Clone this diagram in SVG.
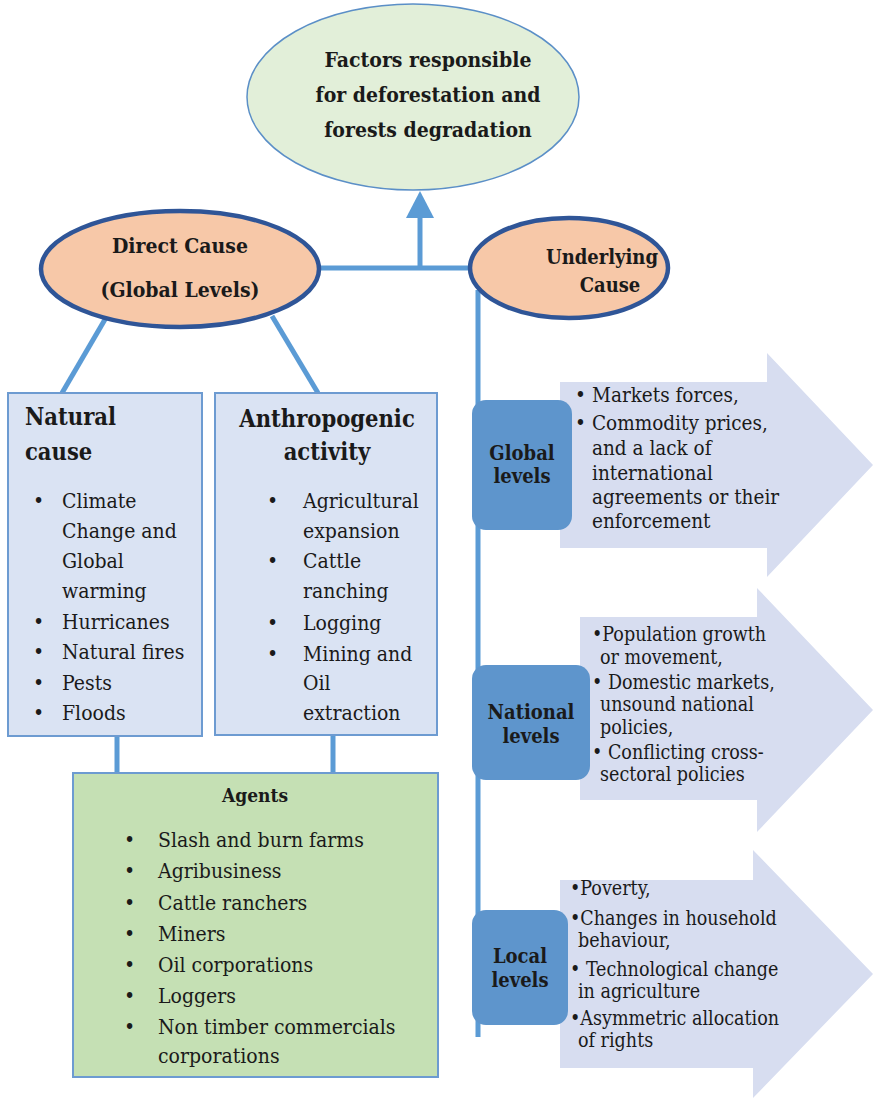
<svg xmlns="http://www.w3.org/2000/svg" width="873" height="1099" viewBox="0 0 873 1099">
<style>
.b{font-weight:bold}
.m{text-anchor:middle}
.f23{font-size:21px}
.fg{font-size:20.5px}
.f22{font-size:20px}
.f21{font-size:19.5px}
.con{stroke:#5b9bd5;stroke-width:5;fill:none}
.cause{fill:#f7c8a8;stroke:#2f5597;stroke-width:4.5}
.box{fill:#dae3f3;stroke:#6d9bd1;stroke-width:2}
.lvl{fill:#5e95cc}
.arr{fill:#d7ddf0}
</style>
<rect width="873" height="1099" fill="#fff"/>
<g id="connectors">
  <line class="con" x1="320" y1="268" x2="475" y2="268"/>
  <line class="con" x1="420" y1="268" x2="420" y2="212" stroke-width="7"/>
  <polygon points="420,191 434,218 406,218" fill="#5b9bd5"/>
  <line class="con" x1="478" y1="290" x2="478" y2="1037"/>
  <line class="con" x1="107" y1="316" x2="62" y2="393"/>
  <line class="con" x1="272" y1="316" x2="318" y2="393"/>
  <line class="con" x1="117" y1="736" x2="117" y2="774"/>
  <line class="con" x1="333" y1="736" x2="333" y2="774"/>
</g>
<g font-family="'DejaVu Serif Condensed', 'DejaVu Serif', serif" font-stretch="condensed" fill="#1a1a1a">
<g id="top">
  <ellipse cx="413" cy="97" rx="166" ry="93" fill="#e2efd9" stroke="#5b8fc7" stroke-width="1.5"/>
  <text class="b m f23" x="428" y="67">Factors responsible</text>
  <text class="b m f23" x="428" y="102">for deforestation and</text>
  <text class="b m f23" x="428" y="137">forests degradation</text>
</g>
<g id="direct">
  <ellipse class="cause" cx="180" cy="269" rx="139" ry="58"/>
  <text class="b m f23" x="180" y="253">Direct Cause</text>
  <text class="b m f23" x="180" y="297">(Global Levels)</text>
</g>
<g id="underlying">
  <ellipse class="cause" cx="569" cy="268" rx="99" ry="50"/>
  <text class="b m f22" x="602" y="264">Underlying</text>
  <text class="b m f22" x="610" y="292">Cause</text>
</g>
<g id="natural">
  <rect class="box" x="8" y="393" width="194" height="343"/>
  <text class="b" x="25" y="425" font-size="23.5">Natural</text>
  <text class="b" x="25" y="460" font-size="23.5">cause</text>
  <g class="f23">
    <text x="33" y="508">•</text><text x="62" y="508">Climate</text>
    <text x="62" y="538">Change and</text>
    <text x="62" y="568">Global</text>
    <text x="62" y="598">warming</text>
    <text x="33" y="629">•</text><text x="62" y="629">Hurricanes</text>
    <text x="33" y="659">•</text><text x="62" y="659">Natural fires</text>
    <text x="33" y="690">•</text><text x="62" y="690">Pests</text>
    <text x="33" y="720">•</text><text x="62" y="720">Floods</text>
  </g>
</g>
<g id="anthropogenic">
  <rect class="box" x="215" y="393" width="222" height="342"/>
  <text class="b m" x="327" y="427" font-size="23.5">Anthropogenic</text>
  <text class="b m" x="327" y="460" font-size="23.5">activity</text>
  <g class="f23">
    <text x="267" y="508">•</text><text x="303" y="508">Agricultural</text>
    <text x="303" y="538">expansion</text>
    <text x="267" y="568">•</text><text x="303" y="568">Cattle</text>
    <text x="303" y="598">ranching</text>
    <text x="267" y="630">•</text><text x="303" y="630">Logging</text>
    <text x="267" y="661">•</text><text x="303" y="661">Mining and</text>
    <text x="303" y="690">Oil</text>
    <text x="303" y="720">extraction</text>
  </g>
</g>
<g id="agents">
  <rect x="73" y="773" width="365" height="304" fill="#c5e0b4" stroke="#6d9bd1" stroke-width="2"/>
  <text class="b m" x="255" y="802" font-size="19">Agents</text>
  <g class="f23">
    <text x="124" y="847">•</text><text x="158" y="847">Slash and burn farms</text>
    <text x="124" y="878">•</text><text x="158" y="878">Agribusiness</text>
    <text x="124" y="910">•</text><text x="158" y="910">Cattle ranchers</text>
    <text x="124" y="941">•</text><text x="158" y="941">Miners</text>
    <text x="124" y="972">•</text><text x="158" y="972">Oil corporations</text>
    <text x="124" y="1003">•</text><text x="158" y="1003">Loggers</text>
    <text x="124" y="1034">•</text><text x="158" y="1034">Non timber commercials</text>
    <text x="158" y="1063">corporations</text>
  </g>
</g>
<g id="global">
  <polygon class="arr" points="560,382 767,382 767,353 873,465 767,577 767,548 560,548"/>
  <rect class="lvl" x="472" y="400" width="100" height="130" rx="14"/>
  <text class="b m f22" x="522" y="460">Global</text>
  <text class="b m f22" x="522" y="483">levels</text>
  <g class="fg">
    <text x="575" y="402">•</text><text x="592" y="402">Markets forces,</text>
    <text x="575" y="430">•</text><text x="592" y="430"> Commodity prices,</text>
    <text x="592" y="455">and a lack of</text>
    <text x="592" y="480">international</text>
    <text x="592" y="504">agreements or their</text>
    <text x="592" y="528">enforcement</text>
  </g>
</g>
<g id="national">
  <polygon class="arr" points="580,617 757,617 757,588 873,710 757,832 757,800 580,800"/>
  <rect class="lvl" x="472" y="665" width="118" height="115" rx="14"/>
  <text class="b m f22" x="531" y="719">National</text>
  <text class="b m f22" x="531" y="743">levels</text>
  <g class="f21">
    <text x="592" y="641">•Population growth</text>
    <text x="600" y="664">or movement,</text>
    <text x="592" y="689">•  Domestic markets,</text>
    <text x="600" y="711">unsound national</text>
    <text x="600" y="734">policies,</text>
    <text x="592" y="759">•  Conflicting cross-</text>
    <text x="600" y="781">sectoral policies</text>
  </g>
</g>
<g id="local">
  <polygon class="arr" points="560,880 753,880 753,850 873,974 753,1098 753,1068 560,1068"/>
  <rect class="lvl" x="472" y="910" width="96" height="115" rx="14"/>
  <text class="b m f22" x="520" y="963">Local</text>
  <text class="b m f22" x="520" y="987">levels</text>
  <g class="f21">
    <text x="570" y="895">•Poverty,</text>
    <text x="570" y="925">•Changes in household</text>
    <text x="578" y="947">behaviour,</text>
    <text x="570" y="976">•  Technological change</text>
    <text x="578" y="998">in agriculture</text>
    <text x="570" y="1025">•Asymmetric allocation</text>
    <text x="578" y="1047">of rights</text>
  </g>
</g>
</g>
</svg>
